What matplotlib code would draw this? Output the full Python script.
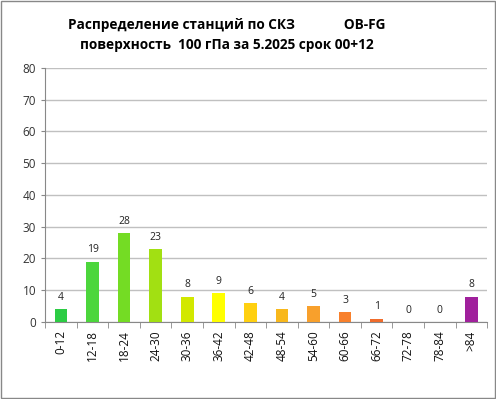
import matplotlib
matplotlib.use("Agg")
import matplotlib.pyplot as plt
import numpy as np

# === data ===
categories = ["0-12", "12-18", "18-24", "24-30", "30-36", "36-42", "42-48",
              "48-54", "54-60", "60-66", "66-72", "72-78", "78-84", ">84"]
counts = [4, 19, 28, 23, 8, 9, 6, 4, 5, 3, 1, 0, 0, 8]
colors = ["#2ccc44", "#4cd63c", "#74dc24", "#a2e012", "#d2e800", "#ffff00",
          "#ffd010", "#f8b81c", "#f8a02c", "#f8802c", "#f06c2c", "#f06c2c",
          "#f06c2c", "#a0209c"]

plt.rcParams['font.family'] = ['Open Sans', 'DejaVu Sans']

fig = plt.figure(figsize=(4.96, 3.99), dpi=100)
ax = fig.add_axes([0.091, 0.193, 0.891, 0.637])

x = np.arange(len(categories))
ax.bar(x, counts, width=0.4, color=colors, zorder=3)
for xi, v in zip(x, counts):
    ax.text(xi, v + 2, str(v), ha="center", va="bottom", fontsize=7.5, color="#222222")

ax.set_xlim(-0.5, len(categories) - 0.5)
ax.set_ylim(0, 80)
ax.set_yticks(range(0, 81, 10))
ax.tick_params(axis="y", labelsize=8.5, length=3, color="#888888", labelcolor="#333333")
ax.set_xticks(x)
ax.set_xticklabels(categories, rotation=90, fontsize=8.5, color="#111111")
ax.tick_params(axis="x", length=0, pad=6)
# small tick marks between categories
ax.set_xticks(np.arange(-0.5, len(categories), 1), minor=True)
ax.tick_params(axis="x", which="minor", length=4, color="#888888")
ax.grid(axis="y", color="#c0c0c0", linewidth=1, zorder=0)
for side in ["top", "right"]:
    ax.spines[side].set_visible(False)
ax.spines["left"].set_color("#888888")
ax.spines["bottom"].set_color("#888888")

fig.text(0.457, 0.937, "Распределение станций по СКЗ              OB-FG",
         ha="center", va="center", fontsize=9.8, fontweight="bold")
fig.text(0.457, 0.887, "поверхность  100 гПа за 5.2025 срок 00+12",
         ha="center", va="center", fontsize=9.8, fontweight="bold")

# outer frame
fig.patches.append(plt.Rectangle((0.002, 0.002), 0.996, 0.996, transform=fig.transFigure,
                                 fill=False, edgecolor="#888888", linewidth=1))

fig.savefig("out.png", dpi=100)
